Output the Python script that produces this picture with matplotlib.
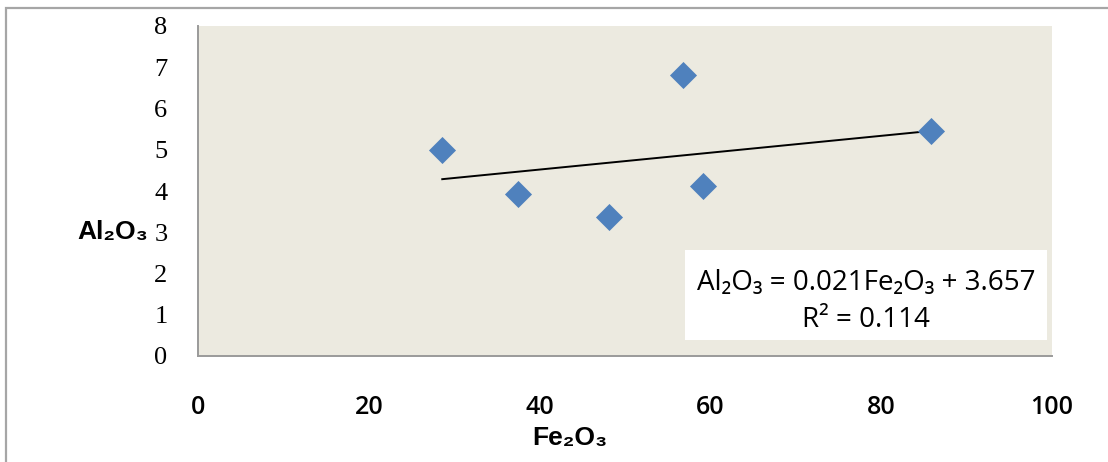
import numpy as np
import matplotlib
matplotlib.use("Agg")
import matplotlib.pyplot as plt
from matplotlib.patches import Rectangle

# Data
fe2o3 = [28.6, 37.5, 48.1, 56.8, 59.1, 85.8]
al2o3 = [4.99, 3.93, 3.37, 6.81, 4.12, 5.45]
x_ticks = [0, 20, 40, 60, 80, 100]
y_ticks = [0, 1, 2, 3, 4, 5, 6, 7, 8]
equation_text = "Al\u2082O\u2083 = 0.021Fe\u2082O\u2083 + 3.657"
r2_text = "R\u00b2 = 0.114"
x_label = "Fe\u2082O\u2083"
y_label = "Al\u2082O\u2083"

W, H = 1108, 462
fig = plt.figure(figsize=(W / 100, H / 100), dpi=100)
fig.patch.set_facecolor("white")

# outer chart border
fig.patches.append(Rectangle((6 / W, -0.1), 1.2, (H - 8) / H + 0.1,
                             transform=fig.transFigure, fill=False,
                             edgecolor="#A6A6A6", linewidth=1.6, zorder=0))

ax = fig.add_axes([198 / W, 1 - 356 / H, (1052 - 198) / W, (356 - 26) / H])
ax.set_facecolor("#ECEAE0")

ax.scatter(fe2o3, al2o3, marker="D", s=190, color="#4F81BD", zorder=3,
           linewidths=0)

coef = np.polyfit(fe2o3, al2o3, 1)
xs = np.array([min(fe2o3), max(fe2o3)])
ax.plot(xs, np.polyval(coef, xs), color="black", linewidth=1.4, zorder=2)

ax.set_xlim(0, 100)
ax.set_ylim(0, 8)
ax.set_xticks(x_ticks)
ax.set_yticks(y_ticks)
ax.set_xticklabels([str(v) for v in x_ticks], fontfamily="Open Sans",
                   fontweight="semibold", fontsize=18)
ax.set_yticklabels([str(v) for v in y_ticks], fontfamily="Liberation Serif",
                   fontsize=19)
ax.tick_params(axis="x", length=0, pad=28)
ax.tick_params(axis="y", length=0, pad=22)

for s in ["top", "right"]:
    ax.spines[s].set_visible(False)
for s in ["left", "bottom"]:
    ax.spines[s].set_color("#9A9A9A")
    ax.spines[s].set_linewidth(1.4)

fig.text(570 / W, 1 - 438 / H, x_label, ha="center", va="center",
         fontsize=19, fontweight="bold",
         family=["Liberation Sans", "DejaVu Sans"])
fig.text(113 / W, 1 - 232 / H, y_label, ha="center", va="center",
         fontsize=19, fontweight="bold",
         family=["Liberation Sans", "DejaVu Sans"])

# equation box
fig.patches.append(Rectangle((685 / W, 1 - 340 / H), (1047 - 685) / W, 90 / H,
                             transform=fig.transFigure, facecolor="white",
                             edgecolor="none", zorder=5))
fig.text(866 / W, 1 - 283 / H, equation_text, ha="center", va="center",
         fontsize=20, family=["Open Sans", "DejaVu Sans"], zorder=6)
fig.text(866 / W, 1 - 320 / H, r2_text, ha="center", va="center",
         fontsize=20, family=["Open Sans", "DejaVu Sans"], zorder=6)

fig.savefig("out.png", dpi=100)
